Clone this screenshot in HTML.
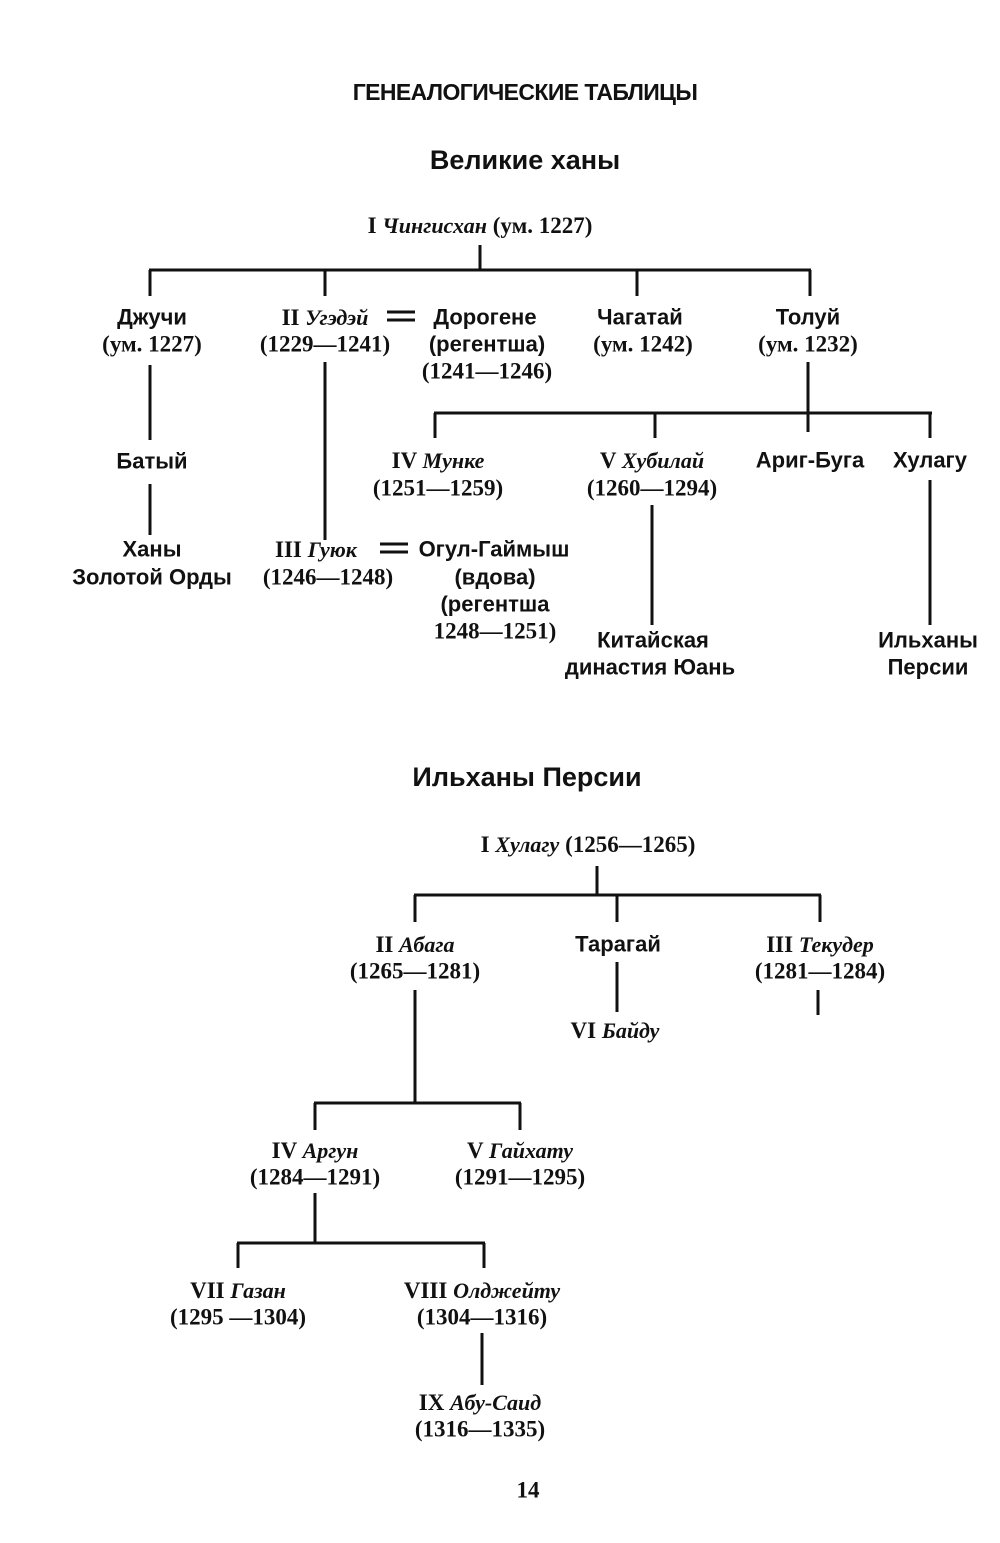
<!DOCTYPE html>
<html><head><meta charset="utf-8"><style>
html,body{margin:0;padding:0;background:#fff;}
svg{display:block;}
text{font-family:"Liberation Sans",sans-serif;font-weight:bold;font-size:22px;fill:#111;text-anchor:middle;dominant-baseline:central;letter-spacing:0px;}
.s{font-family:"Liberation Serif",serif;font-size:23px;letter-spacing:0px;}
.i{font-family:"Liberation Serif",serif;font-style:italic;}
.h{font-size:27px;}
.t{font-size:23px;letter-spacing:-0.6px;}
line{stroke:#111;stroke-width:3;}
</style></head><body>
<svg width="1000" height="1543" viewBox="0 0 1000 1543">
<text class="t" x="525" y="92">ГЕНЕАЛОГИЧЕСКИЕ ТАБЛИЦЫ</text>
<text class="h" x="525" y="160">Великие ханы</text>
<text x="480" y="225"><tspan class="s">I </tspan><tspan class="i">Чингисхан</tspan><tspan class="s"> (ум. 1227)</tspan></text>
<line x1="480" y1="245" x2="480" y2="270"/>
<line x1="149" y1="270" x2="811" y2="270"/>
<line x1="150" y1="270" x2="150" y2="296"/>
<line x1="325" y1="270" x2="325" y2="296"/>
<line x1="637" y1="270" x2="637" y2="296"/>
<line x1="810" y1="270" x2="810" y2="296"/>
<text x="152" y="317">Джучи</text>
<text class="s" x="152" y="344">(ум. 1227)</text>
<text x="325" y="317"><tspan class="s">II </tspan><tspan class="i">Угэдэй</tspan></text>
<text class="s" x="325" y="344">(1229—1241)</text>
<line x1="387" y1="312" x2="415" y2="312"/>
<line x1="387" y1="320" x2="415" y2="320"/>
<text x="485" y="317">Дорогене</text>
<text x="487" y="344">(регентша)</text>
<text class="s" x="487" y="371">(1241—1246)</text>
<text x="640" y="317">Чагатай</text>
<text class="s" x="643" y="344">(ум. 1242)</text>
<text x="808" y="317">Толуй</text>
<text class="s" x="808" y="344">(ум. 1232)</text>
<line x1="150" y1="365" x2="150" y2="440"/>
<text x="152" y="461">Батый</text>
<line x1="150" y1="484" x2="150" y2="535"/>
<text x="152" y="549">Ханы</text>
<text x="152" y="577">Золотой Орды</text>
<line x1="325" y1="362" x2="325" y2="540"/>
<text x="316" y="549"><tspan class="s">III </tspan><tspan class="i">Гуюк</tspan></text>
<line x1="380" y1="544" x2="408" y2="544"/>
<line x1="380" y1="552" x2="408" y2="552"/>
<text x="494" y="549">Огул-Гаймыш</text>
<text class="s" x="328" y="577">(1246—1248)</text>
<text x="495" y="577">(вдова)</text>
<text x="495" y="604">(регентша</text>
<text class="s" x="495" y="631">1248—1251)</text>
<line x1="808" y1="362" x2="808" y2="432"/>
<line x1="434" y1="413" x2="932" y2="413"/>
<line x1="435" y1="413" x2="435" y2="438"/>
<line x1="655" y1="413" x2="655" y2="438"/>
<line x1="930" y1="413" x2="930" y2="438"/>
<text x="438" y="460"><tspan class="s">IV </tspan><tspan class="i">Мунке</tspan></text>
<text class="s" x="438" y="488">(1251—1259)</text>
<text x="652" y="460"><tspan class="s">V </tspan><tspan class="i">Хубилай</tspan></text>
<text class="s" x="652" y="488">(1260—1294)</text>
<text x="810" y="460">Ариг-Буга</text>
<text x="930" y="460">Хулагу</text>
<line x1="652" y1="505" x2="652" y2="625"/>
<text x="653" y="640">Китайская</text>
<text x="650" y="667">династия Юань</text>
<line x1="930" y1="480" x2="930" y2="625"/>
<text x="928" y="640">Ильханы</text>
<text x="928" y="667">Персии</text>

<text class="h" x="527" y="777">Ильханы Персии</text>
<text x="588" y="844"><tspan class="s">I </tspan><tspan class="i">Хулагу</tspan><tspan class="s"> (1256—1265)</tspan></text>
<line x1="597" y1="866" x2="597" y2="895"/>
<line x1="414" y1="895" x2="821" y2="895"/>
<line x1="415" y1="895" x2="415" y2="922"/>
<line x1="617" y1="895" x2="617" y2="922"/>
<line x1="820" y1="895" x2="820" y2="922"/>
<text x="415" y="944"><tspan class="s">II </tspan><tspan class="i">Абага</tspan></text>
<text class="s" x="415" y="971">(1265—1281)</text>
<text x="618" y="944">Тарагай</text>
<text x="820" y="944"><tspan class="s">III </tspan><tspan class="i">Текудер</tspan></text>
<text class="s" x="820" y="971">(1281—1284)</text>
<line x1="617" y1="962" x2="617" y2="1012"/>
<text x="615" y="1030"><tspan class="s">VI </tspan><tspan class="i">Байду</tspan></text>
<line x1="818" y1="990" x2="818" y2="1015"/>
<line x1="415" y1="990" x2="415" y2="1103"/>
<line x1="314" y1="1103" x2="521" y2="1103"/>
<line x1="315" y1="1103" x2="315" y2="1130"/>
<line x1="520" y1="1103" x2="520" y2="1130"/>
<text x="315" y="1150"><tspan class="s">IV </tspan><tspan class="i">Аргун</tspan></text>
<text class="s" x="315" y="1177">(1284—1291)</text>
<text x="520" y="1150"><tspan class="s">V </tspan><tspan class="i">Гайхату</tspan></text>
<text class="s" x="520" y="1177">(1291—1295)</text>
<line x1="315" y1="1193" x2="315" y2="1243"/>
<line x1="237" y1="1243" x2="485" y2="1243"/>
<line x1="238" y1="1243" x2="238" y2="1268"/>
<line x1="484" y1="1243" x2="484" y2="1268"/>
<text x="238" y="1290"><tspan class="s">VII </tspan><tspan class="i">Газан</tspan></text>
<text class="s" x="238" y="1317">(1295 —1304)</text>
<text x="482" y="1290"><tspan class="s">VIII </tspan><tspan class="i">Олджейту</tspan></text>
<text class="s" x="482" y="1317">(1304—1316)</text>
<line x1="482" y1="1333" x2="482" y2="1385"/>
<text x="480" y="1402"><tspan class="s">IX </tspan><tspan class="i">Абу-Саид</tspan></text>
<text class="s" x="480" y="1429">(1316—1335)</text>
<text class="s" x="528" y="1490">14</text>
</svg>
</body></html>
